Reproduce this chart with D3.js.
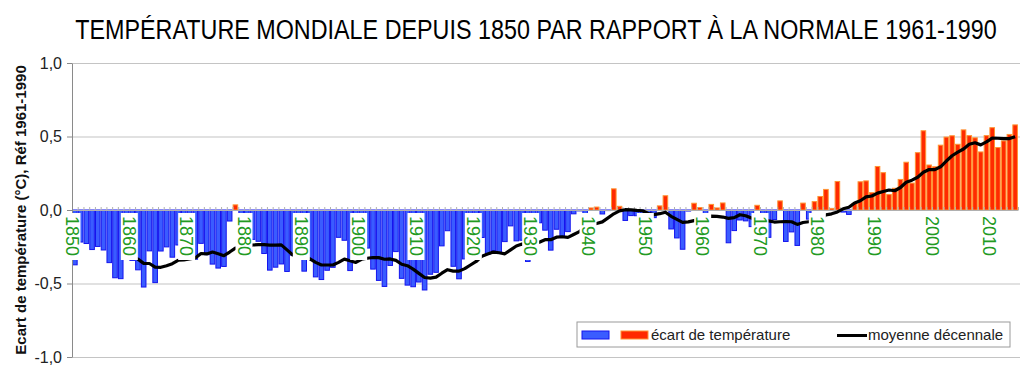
<!DOCTYPE html>
<html>
<head>
<meta charset="utf-8">
<script src="https://cdn.jsdelivr.net/npm/d3@7/dist/d3.min.js"></script>
<style>
    body { margin: 0; background: #fff; }
    svg { display: block; font-family: "Liberation Sans", Arial, sans-serif; }
</style>
</head>
<body>
<svg id="chart" width="1024" height="376"></svg>
<script>
/* années et écarts annuels (°C, réf. 1961-1990) */
const years = d3.range(1850, 2015);

const anomalies = [
    -0.373, -0.218, -0.228, -0.269, -0.248, -0.272, -0.358, -0.461, -0.467, -0.284,
    -0.343, -0.407, -0.524, -0.278, -0.494, -0.279, -0.251, -0.321, -0.238, -0.262,
    -0.276, -0.335, -0.227, -0.304, -0.368, -0.395, -0.384, -0.075,  0.035, -0.230,
    -0.227, -0.200, -0.213, -0.296, -0.409, -0.389, -0.367, -0.418, -0.307, -0.171,
    -0.416, -0.330, -0.455, -0.473, -0.410, -0.390, -0.186, -0.206, -0.412, -0.289,
    -0.203, -0.259, -0.402, -0.479, -0.520, -0.377, -0.283, -0.465, -0.511, -0.522,
    -0.490, -0.544, -0.437, -0.424, -0.244, -0.141, -0.383, -0.468, -0.333, -0.275,
    -0.247, -0.187, -0.302, -0.276, -0.294, -0.215, -0.108, -0.210, -0.206, -0.350,
    -0.137, -0.087, -0.137, -0.273, -0.131, -0.178, -0.147, -0.026, -0.006, -0.052,
     0.014,  0.020, -0.027, -0.004,  0.144,  0.025, -0.071, -0.038, -0.039, -0.074,
    -0.173, -0.052,  0.028,  0.097, -0.129, -0.190, -0.267, -0.007,  0.046,  0.017,
    -0.049,  0.038,  0.014,  0.048, -0.223, -0.140, -0.068, -0.074, -0.113,  0.032,
    -0.027, -0.186, -0.065,  0.062, -0.214, -0.149, -0.241,  0.047, -0.062,  0.057,
     0.092,  0.140,  0.011,  0.194, -0.014, -0.030,  0.045,  0.192,  0.198,  0.118,
     0.296,  0.254,  0.105,  0.148,  0.208,  0.325,  0.183,  0.390,  0.539,  0.306,
     0.294,  0.441,  0.496,  0.505,  0.447,  0.545,  0.506,  0.491,  0.395,  0.506,
     0.560,  0.425,  0.470,  0.514,  0.579
];

/* moyenne décennale, de 1859 à 2014 */
const avgYears = d3.range(1859, 2015);

const decadal = [
    -0.318,
    -0.315, -0.334, -0.363, -0.364, -0.389, -0.390, -0.379, -0.365, -0.342, -0.340,
    -0.333, -0.326, -0.296, -0.299, -0.286, -0.298, -0.311, -0.286, -0.259, -0.256,
    -0.251, -0.238, -0.236, -0.235, -0.239, -0.239, -0.237, -0.271, -0.306, -0.300,
    -0.319, -0.332, -0.356, -0.374, -0.374, -0.374, -0.356, -0.334, -0.345, -0.357,
    -0.335, -0.328, -0.323, -0.324, -0.335, -0.333, -0.343, -0.369, -0.379, -0.402,
    -0.431, -0.459, -0.463, -0.457, -0.430, -0.406, -0.416, -0.416, -0.399, -0.374,
    -0.350, -0.314, -0.300, -0.286, -0.291, -0.298, -0.271, -0.245, -0.232, -0.240,
    -0.229, -0.219, -0.202, -0.202, -0.185, -0.182, -0.186, -0.167, -0.147, -0.117,
    -0.102, -0.092, -0.081, -0.054, -0.026, -0.006,  0.002,  0.001, -0.003, -0.005,
    -0.024, -0.031, -0.025, -0.015, -0.043, -0.064, -0.084, -0.081, -0.072, -0.063,
    -0.051, -0.042, -0.043, -0.048, -0.057, -0.052, -0.032, -0.039, -0.055, -0.054,
    -0.051, -0.074, -0.082, -0.080, -0.079, -0.080, -0.098, -0.085, -0.080, -0.078,
    -0.066, -0.033, -0.026, -0.013,  0.008,  0.019,  0.048,  0.063,  0.089,  0.095,
     0.115,  0.126,  0.136,  0.131,  0.153,  0.189,  0.203,  0.223,  0.257,  0.275,
     0.275,  0.294,  0.333,  0.369,  0.393,  0.415,  0.447,  0.457,  0.443,  0.463,
     0.489,  0.488,  0.485,  0.486,  0.499
];

const decadeLabels = [1850, 1860, 1870, 1880, 1890, 1900, 1910, 1920, 1930, 1940, 1950, 1960, 1970, 1980, 1990, 2000, 2010];
const yTicks = [-1, -0.5, 0, 0.5, 1];

const title = "TEMPÉRATURE MONDIALE DEPUIS 1850 PAR RAPPORT À LA NORMALE 1961-1990";
const yTitle = "Ecart de température (°C), Réf 1961-1990";

let svg = d3.select("#chart");

let mLeft = 72, mRight = 1018, mTop = 63, mBottom = 357;

let xScale = d3.scaleBand()
                .domain(years)
                .range([mLeft, mRight])
                .paddingInner(0.2)
                .paddingOuter(0.1),
    xLin   = d3.scaleLinear()
                .domain([1850, 2015])
                .range([mLeft, mRight]),
    yScale = d3.scaleLinear()
                .domain([-1, 1])
                .range([mBottom, mTop]);

let frFormat = d3.formatLocale({decimal: ",", thousands: " ", grouping: [3], currency: ["", " €"], minus: "-"})
                 .format(".1f");

let data = years.map((y, i) => ({year: y, value: anomalies[i]}));
let avg  = avgYears.map((y, i) => ({year: y, value: decadal[i]}));

svg.append("rect")
    .attr("width", 1024)
    .attr("height", 376)
    .attr("fill", "#fff");

/* grille horizontale */
svg.append("g")
    .selectAll("line")
    .data(yTicks.filter(d => d !== 0))
    .enter()
    .append("line")
    .attr("x1", mLeft)
    .attr("x2", mRight + 2)
    .attr("y1", d => yScale(d) + 0.5)
    .attr("y2", d => yScale(d) + 0.5)
    .attr("stroke", "#c4c4c4")
    .attr("stroke-width", 1.2);

/* barres */
svg.append("g")
    .selectAll("rect")
    .data(data)
    .enter()
    .append("rect")
    .attr("x", d => xScale(d.year))
    .attr("width", xScale.bandwidth())
    .attr("y", d => yScale(Math.max(0, d.value)))
    .attr("height", d => Math.abs(yScale(d.value) - yScale(0)))
    .attr("fill", d => d.value >= 0 ? "#ff2a00" : "#3a5cff")
    .attr("stroke", d => d.value >= 0 ? "#ff9433" : "#1414ee")
    .attr("stroke-width", 1);

/* axe du zéro avec graduations annuelles */
svg.append("g")
    .attr("transform", `translate(0, ${yScale(0)})`)
    .attr("color", "#b0b0b0")
    .call(d3.axisTop(xLin)
            .tickValues(d3.range(1850, 2016))
            .tickSize(3)
            .tickSizeOuter(0)
            .tickFormat(""));

/* axe y */
let gy = svg.append("g")
    .attr("transform", `translate(${mLeft}, 0)`)
    .attr("color", "#8a8a8a")
    .call(d3.axisLeft(yScale)
            .tickValues(yTicks)
            .tickSize(5)
            .tickSizeOuter(0)
            .tickPadding(5)
            .tickFormat(frFormat));

gy.selectAll("text")
    .attr("fill", "#222")
    .style("font-size", "16px")
    .style("font-family", "Liberation Sans, Arial, sans-serif");

/* moyenne décennale */
svg.append("path")
    .datum(avg)
    .attr("fill", "none")
    .attr("stroke", "#000")
    .attr("stroke-width", 3.2)
    .attr("stroke-linejoin", "round")
    .attr("d", d3.line()
                .x(d => xScale(d.year) + xScale.bandwidth() / 2)
                .y(d => yScale(d.value)));

/* étiquettes des décennies, fond blanc par-dessus les barres */
let labels = svg.append("g")
    .selectAll("g")
    .data(decadeLabels)
    .enter()
    .append("g")
    .attr("transform", d => `translate(${xLin(d)}, ${yScale(0) + 3}) rotate(90)`);

labels.append("rect")
    .attr("x", 0)
    .attr("y", -8.5)
    .attr("width", 47)
    .attr("height", 17)
    .attr("fill", "#fff");

labels.append("text")
    .attr("x", 3)
    .attr("dy", "0.36em")
    .attr("fill", "#229a22")
    .style("font-size", "18px")
    .text(d => d);

/* légende */
let legend = svg.append("g").attr("transform", "translate(577, 322)");

legend.append("rect")
    .attr("width", 433)
    .attr("height", 25)
    .attr("fill", "#fff")
    .attr("stroke", "#9a9a9a");

legend.append("rect")
    .attr("x", 5).attr("y", 9)
    .attr("width", 27).attr("height", 8)
    .attr("fill", "#3a5cff")
    .attr("stroke", "#1414ee");

legend.append("rect")
    .attr("x", 44).attr("y", 9)
    .attr("width", 27).attr("height", 8)
    .attr("fill", "#ff2a00")
    .attr("stroke", "#ff9433");

legend.append("text")
    .attr("x", 74).attr("y", 18)
    .attr("fill", "#222")
    .style("font-size", "15px")
    .text("écart de température");

legend.append("line")
    .attr("x1", 260).attr("x2", 290)
    .attr("y1", 13.5).attr("y2", 13.5)
    .attr("stroke", "#000")
    .attr("stroke-width", 3);

legend.append("text")
    .attr("x", 291).attr("y", 18)
    .attr("fill", "#222")
    .style("font-size", "15px")
    .text("moyenne décennale");

/* titre : police étroite simulée par un étirement horizontal */
let titleText = svg.append("text")
    .attr("text-anchor", "middle")
    .attr("fill", "#000")
    .style("font-family", "'Liberation Sans', Arial, sans-serif")
    .style("font-size", "28px")
    .text(title);

let titleW = titleText.node().getComputedTextLength();
titleText.attr("transform", `translate(536, 39) scale(${922 / titleW}, 1)`);

svg.append("text")
    .attr("transform", `translate(26, ${(mTop + mBottom) / 2}) rotate(-90)`)
    .attr("text-anchor", "middle")
    .attr("fill", "#111")
    .style("font-size", "15px")
    .style("font-weight", "bold")
    .text(yTitle);
</script>
</body>
</html>
